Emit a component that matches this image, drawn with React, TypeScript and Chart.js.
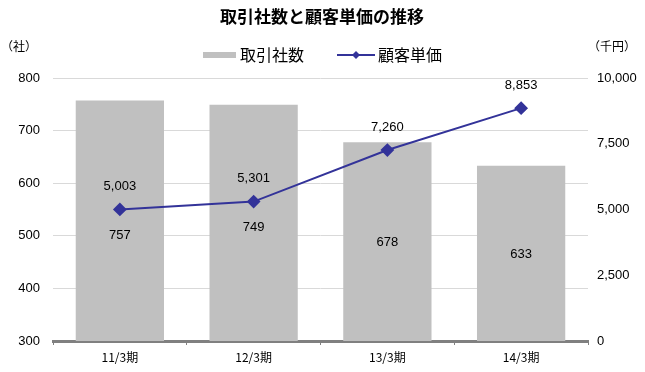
import React, { useEffect, useRef } from "react";
import { Chart, registerables } from "chart.js";

Chart.register(...registerables);

const TITLE = "取引社数と顧客単価の推移";
const LEFT_UNIT = "（社）";
const RIGHT_UNIT = "（千円）";
const categories = ["11/3期", "12/3期", "13/3期", "14/3期"];
const seriesNames = ["取引社数", "顧客単価"];
const clientCounts = [757, 749, 678, 633];
const unitPrices = [5003, 5301, 7260, 8853];
const leftAxis = { min: 300, max: 800, step: 100 };
const rightAxis = { min: 0, max: 10000, step: 2500 };

const BAR_COLOR = "#c0c0c0";
const LINE_COLOR = "#333399";
const NUM_FONT = '"Liberation Sans", Arial, sans-serif';
const JP_FONT = '"Noto Sans CJK JP", sans-serif';

const fmt = (v: number) => v.toLocaleString("en-US");

const overlay = {
  id: "overlay",
  afterDatasetsDraw(chart: any) {
    const ctx = chart.ctx;
    ctx.save();
    ctx.font = `13px ${NUM_FONT}`;
    ctx.fillStyle = "#000";
    ctx.textAlign = "center";
    ctx.textBaseline = "middle";
    const base = chart.scales.y.getPixelForValue(leftAxis.min);
    const barMeta = chart.getDatasetMeta(0);
    const lineMeta = chart.getDatasetMeta(1);
    barMeta.data.forEach((el: any, i: number) => {
      const p = el.getProps(["x", "y"], true);
      const center = (p.y + base) / 2 + 1;
      const pt = lineMeta.data[i];
      const y = Math.max(center, pt ? pt.y + 26 : center);
      ctx.fillText(fmt(clientCounts[i]), p.x, y);
    });
    lineMeta.data.forEach((el: any, i: number) => {
      ctx.fillText(fmt(unitPrices[i]), el.x, el.y - 23);
    });
    ctx.restore();
  },
  afterDraw(chart: any) {
    const ctx = chart.ctx;
    ctx.save();
    ctx.fillStyle = "#000";
    ctx.textBaseline = "middle";
    ctx.font = `bold 17px ${JP_FONT}`;
    ctx.textAlign = "center";
    ctx.fillText(TITLE, 322, 17);
    ctx.font = `12px ${JP_FONT}`;
    ctx.textAlign = "left";
    ctx.fillText(LEFT_UNIT, 1, 46);
    ctx.fillText(RIGHT_UNIT, 588, 46);
    ctx.fillStyle = BAR_COLOR;
    ctx.fillRect(203, 52, 33, 6);
    ctx.fillStyle = "#000";
    ctx.font = `16px ${JP_FONT}`;
    ctx.fillText(seriesNames[0], 240, 55);
    ctx.strokeStyle = LINE_COLOR;
    ctx.lineWidth = 2;
    ctx.beginPath();
    ctx.moveTo(337, 55);
    ctx.lineTo(375, 55);
    ctx.stroke();
    ctx.fillStyle = LINE_COLOR;
    ctx.beginPath();
    ctx.moveTo(356, 51);
    ctx.lineTo(360, 55);
    ctx.lineTo(356, 59);
    ctx.lineTo(352, 55);
    ctx.closePath();
    ctx.fill();
    ctx.fillStyle = "#000";
    ctx.fillText(seriesNames[1], 378, 55);
    ctx.restore();
  },
};

export default function App() {
  const ref = useRef<HTMLCanvasElement | null>(null);
  useEffect(() => {
    if (!ref.current) return;
    const chart = new Chart(ref.current, {
      type: "bar",
      data: {
        labels: categories,
        datasets: [
          {
            type: "bar",
            label: seriesNames[0],
            data: clientCounts,
            backgroundColor: BAR_COLOR,
            yAxisID: "y",
            categoryPercentage: 1,
            barPercentage: 0.66,
            order: 1,
          },
          {
            type: "line",
            label: seriesNames[1],
            data: unitPrices,
            borderColor: LINE_COLOR,
            backgroundColor: LINE_COLOR,
            borderWidth: 2,
            pointStyle: "rectRot",
            pointRadius: 5.5,
            pointBackgroundColor: LINE_COLOR,
            pointBorderColor: LINE_COLOR,
            yAxisID: "y1",
            order: 0,
          } as any,
        ],
      },
      options: {
        responsive: false,
        animation: false,
        layout: { padding: { top: 78, left: 0, right: 0, bottom: 0 } },
        plugins: {
          legend: { display: false },
          title: { display: false },
          tooltip: { enabled: false },
        },
        scales: {
          x: {
            offset: true,
            grid: {
              display: true,
              offset: true,
              drawOnChartArea: false,
              drawTicks: true,
              tickLength: 4,
              color: "#808080",
            },
            border: { display: true, color: "#808080", width: 3 },
            ticks: {
              color: "#000",
              padding: 5,
              font: { family: JP_FONT, size: 12 },
            },
            afterFit: (s: any) => {
              s.height = 31;
            },
          },
          y: {
            position: "left",
            min: leftAxis.min,
            max: leftAxis.max,
            ticks: {
              stepSize: leftAxis.step,
              color: "#000",
              padding: 13,
              font: { family: NUM_FONT, size: 13 },
            },
            grid: { color: "#d9d9d9", drawTicks: false, lineWidth: 1 },
            border: { display: false },
            afterFit: (s: any) => {
              s.width = 53;
            },
          },
          y1: {
            position: "right",
            min: rightAxis.min,
            max: rightAxis.max,
            ticks: {
              stepSize: rightAxis.step,
              color: "#000",
              padding: 9,
              font: { family: NUM_FONT, size: 13 },
              callback: (v: any) => fmt(Number(v)),
            },
            grid: { display: false, drawTicks: false },
            border: { display: false },
            afterFit: (s: any) => {
              s.width = 57;
            },
          },
        },
      },
      plugins: [overlay],
    });
    return () => chart.destroy();
  }, []);
  return (
    <div style={{ position: "fixed", left: 0, top: 0, width: 645, height: 372, background: "#fff" }}>
      <canvas ref={ref} width={645} height={372} style={{ display: "block" }} />
    </div>
  );
}
